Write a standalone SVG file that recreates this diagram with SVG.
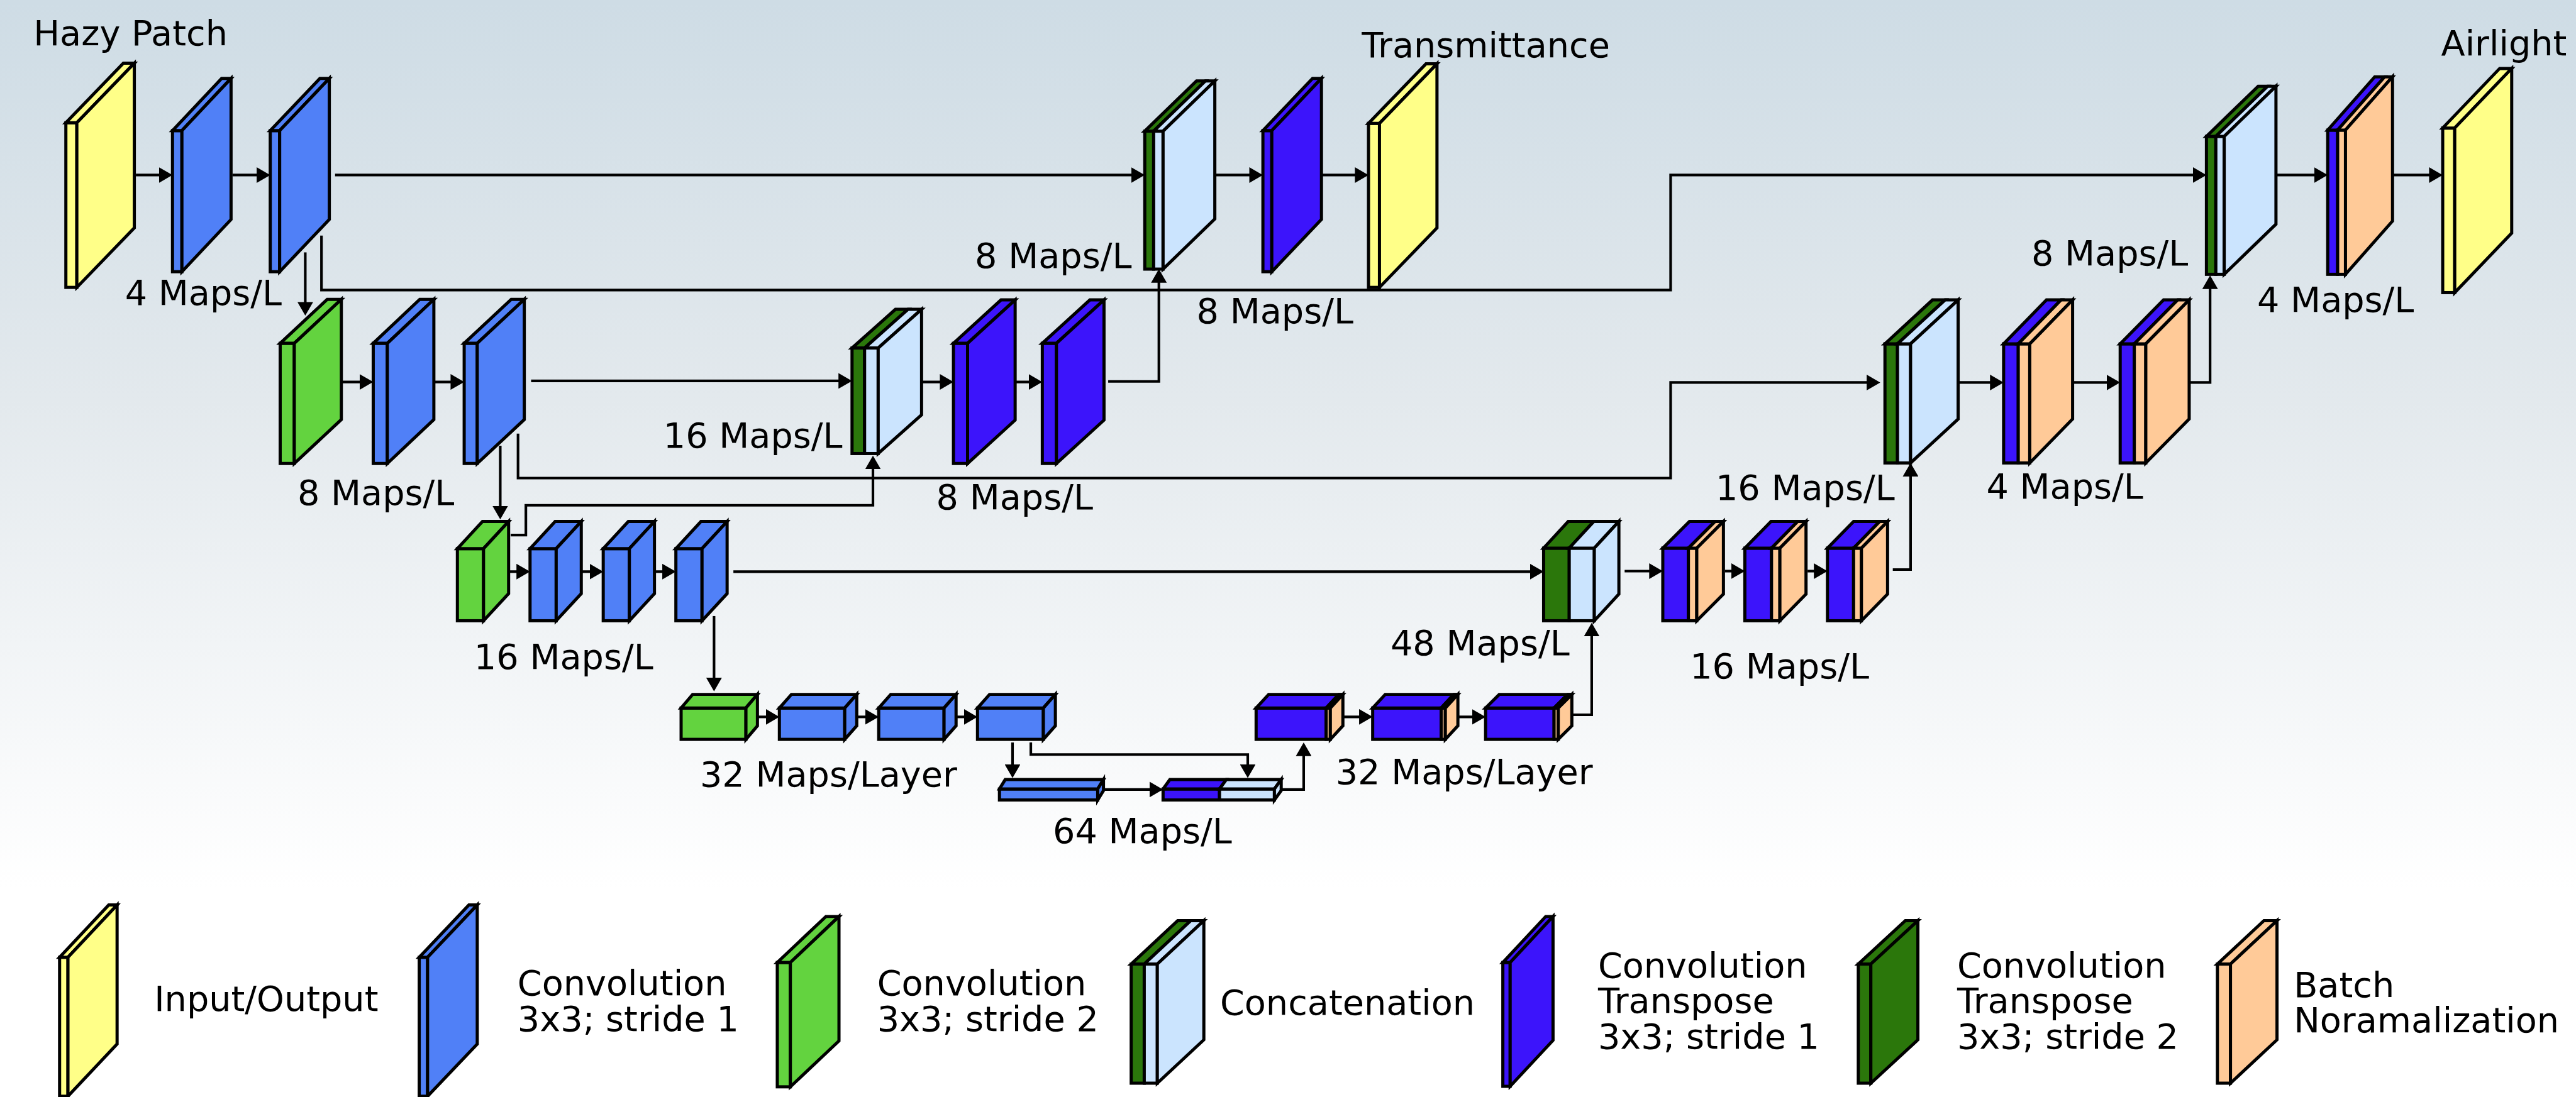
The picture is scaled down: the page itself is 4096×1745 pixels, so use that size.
<svg xmlns="http://www.w3.org/2000/svg" width="4096" height="1745" viewBox="0 0 4096 1745">
  <defs>
    <linearGradient id="bg" x1="0" y1="0" x2="0" y2="1700" gradientUnits="userSpaceOnUse">
      <stop offset="0" stop-color="#cedce5"/>
      <stop offset="0.45" stop-color="#e3e9ed"/>
      <stop offset="1" stop-color="#ffffff"/>
    </linearGradient>
    <marker id="arr" markerUnits="userSpaceOnUse" markerWidth="26" markerHeight="30" refX="16" refY="15" orient="auto">
      <path d="M0,0 L26,15 L0,30 Z" fill="#000"/>
    </marker>
    <style>
      .s polygon, .s rect { stroke:#000; stroke-width:6; stroke-linejoin:miter; }
      .y { fill:#ffff88; }
      .b { fill:#5080f7; }
      .g { fill:#63d33f; }
      .dg { fill:#2b770b; }
      .lb { fill:#cbe4fe; }
      .v { fill:#3c14fb; }
      .p { fill:#ffca98; }
      .c { fill:none; stroke:#000; stroke-width:5; marker-end:url(#arr); }
      .t { font-family:"DejaVu Sans", "Liberation Sans", sans-serif; font-size:67px; fill:#000; }
    </style>
  </defs>

  <g transform="scale(0.831169)">
    <rect x="0" y="0" width="4928" height="2100" fill="url(#bg)"/>

    <!-- connectors -->
    <g id="connectors">
      <!-- level 1 -->
      <path class="c" d="M260,335 H320"/>
      <path class="c" d="M445,335 H507"/>
      <path class="c" d="M641,335 H2180"/>
      <path class="c" d="M2326,335 H2406"/>
      <path class="c" d="M2529,335 H2608"/>
      <path class="c" d="M615,451 V555 H3196 V335 H4211"/>
      <path class="c" d="M584,483 V594"/>
      <path class="c" d="M4355,335 H4443"/>
      <path class="c" d="M4578,335 H4663"/>
      <!-- level 2 -->
      <path class="c" d="M653,731 H704"/>
      <path class="c" d="M830,731 H878"/>
      <path class="c" d="M1016,729 H1620"/>
      <path class="c" d="M1765,731 H1814"/>
      <path class="c" d="M1943,731 H1984"/>
      <path class="c" d="M2120,730 H2217 V525"/>
      <path class="c" d="M991,830 V915 H3196 V732 H3587"/>
      <path class="c" d="M957,853 V984"/>
      <path class="c" d="M977,1024 H1006 V967 H1670 V882"/>
      <path class="c" d="M3747,732 H3823"/>
      <path class="c" d="M3966,732 H4046"/>
      <path class="c" d="M4189,732 H4228 V537"/>
      <!-- level 3 -->
      <path class="c" d="M973,1094 H1004"/>
      <path class="c" d="M1112,1094 H1144"/>
      <path class="c" d="M1252,1094 H1283"/>
      <path class="c" d="M1403,1094 H2943"/>
      <path class="c" d="M1366,1179 V1313"/>
      <path class="c" d="M3108,1093 H3171"/>
      <path class="c" d="M3300,1093 H3328"/>
      <path class="c" d="M3458,1093 H3486"/>
      <path class="c" d="M3621,1090 H3655 V896"/>
      <!-- level 4 / 5 -->
      <path class="c" d="M1449,1372 H1481"/>
      <path class="c" d="M1639,1372 H1671"/>
      <path class="c" d="M1829,1372 H1860"/>
      <path class="c" d="M1937,1421 V1479"/>
      <path class="c" d="M1972,1421 V1444 H2387 V1479"/>
      <path class="c" d="M2111,1511 H2215"/>
      <path class="c" d="M2452,1511 H2494 V1431"/>
      <path class="c" d="M2569,1372 H2616"/>
      <path class="c" d="M2790,1372 H2832"/>
      <path class="c" d="M3008,1368 H3045 V1202"/>
    </g>

    <!-- level 1 nodes -->
    <g id="hazy-patch" class="s">
      <rect class="y" x="126" y="235" width="21" height="315"/>
      <polygon class="y" points="126,235 147,235 257,121 236,121"/>
      <polygon class="y" points="147,235 257,121 257,436 147,550"/>
    </g>
    <g id="conv1a" class="s">
      <rect class="b" x="330" y="250" width="18" height="270"/>
      <polygon class="b" points="330,250 348,250 442,150 424,150"/>
      <polygon class="b" points="348,250 442,150 442,420 348,520"/>
    </g>
    <g id="conv1b" class="s">
      <rect class="b" x="517" y="250" width="18" height="270"/>
      <polygon class="b" points="517,250 535,250 630,150 612,150"/>
      <polygon class="b" points="535,250 630,150 630,420 535,520"/>
    </g>
    <g id="concat-t1" class="s">
      <rect class="dg" x="2190" y="251" width="17" height="264"/>
      <polygon class="dg" points="2190,251 2207,251 2306,155 2289,155"/>
      <rect class="lb" x="2207" y="251" width="18" height="264"/>
      <polygon class="lb" points="2207,251 2225,251 2324,155 2306,155"/>
      <polygon class="lb" points="2225,251 2324,155 2324,419 2225,515"/>
    </g>
    <g id="tconv-t1" class="s">
      <rect class="v" x="2416" y="250" width="17" height="270"/>
      <polygon class="v" points="2416,250 2433,250 2528,150 2511,150"/>
      <polygon class="v" points="2433,250 2528,150 2528,420 2433,520"/>
    </g>
    <g id="transmittance" class="s">
      <rect class="y" x="2618" y="236" width="21" height="314"/>
      <polygon class="y" points="2618,236 2639,236 2749,122 2728,122"/>
      <polygon class="y" points="2639,236 2749,122 2749,436 2639,550"/>
    </g>
    <g id="concat-a1" class="s">
      <rect class="dg" x="4221" y="261" width="18" height="264"/>
      <polygon class="dg" points="4221,261 4239,261 4338,165 4320,165"/>
      <rect class="lb" x="4239" y="261" width="16" height="264"/>
      <polygon class="lb" points="4239,261 4255,261 4354,165 4338,165"/>
      <polygon class="lb" points="4255,261 4354,165 4354,429 4255,525"/>
    </g>
    <g id="tconv-a1" class="s">
      <rect class="v" x="4453" y="249" width="19" height="276"/>
      <polygon class="v" points="4453,249 4472,249 4562,147 4543,147"/>
      <rect class="p" x="4472" y="249" width="15" height="276"/>
      <polygon class="p" points="4472,249 4487,249 4577,147 4562,147"/>
      <polygon class="p" points="4487,249 4577,147 4577,423 4487,525"/>
    </g>
    <g id="airlight" class="s">
      <rect class="y" x="4673" y="245" width="23" height="315"/>
      <polygon class="y" points="4673,245 4696,245 4805,131 4782,131"/>
      <polygon class="y" points="4696,245 4805,131 4805,446 4696,560"/>
    </g>

    <!-- level 2 nodes -->
    <g id="down2" class="s">
      <rect class="g" x="536" y="657" width="27" height="230"/>
      <polygon class="g" points="536,657 563,657 653,573 626,573"/>
      <polygon class="g" points="563,657 653,573 653,803 563,887"/>
    </g>
    <g id="conv2a" class="s">
      <rect class="b" x="714" y="657" width="27" height="230"/>
      <polygon class="b" points="714,657 741,657 830,573 803,573"/>
      <polygon class="b" points="741,657 830,573 830,803 741,887"/>
    </g>
    <g id="conv2b" class="s">
      <rect class="b" x="888" y="657" width="25" height="230"/>
      <polygon class="b" points="888,657 913,657 1003,573 978,573"/>
      <polygon class="b" points="913,657 1003,573 1003,803 913,887"/>
    </g>
    <g id="concat-t2" class="s">
      <rect class="dg" x="1630" y="666" width="24" height="202"/>
      <polygon class="dg" points="1630,666 1654,666 1737,592 1713,592"/>
      <rect class="lb" x="1654" y="666" width="26" height="202"/>
      <polygon class="lb" points="1654,666 1680,666 1763,592 1737,592"/>
      <polygon class="lb" points="1680,666 1763,592 1763,794 1680,868"/>
    </g>
    <g id="tconv-t2a" class="s">
      <rect class="v" x="1824" y="657" width="27" height="230"/>
      <polygon class="v" points="1824,657 1851,657 1942,574 1915,574"/>
      <polygon class="v" points="1851,657 1942,574 1942,804 1851,887"/>
    </g>
    <g id="tconv-t2b" class="s">
      <rect class="v" x="1994" y="657" width="27" height="230"/>
      <polygon class="v" points="1994,657 2021,657 2112,574 2085,574"/>
      <polygon class="v" points="2021,657 2112,574 2112,804 2021,887"/>
    </g>
    <g id="concat-a2" class="s">
      <rect class="dg" x="3606" y="658" width="24" height="228"/>
      <polygon class="dg" points="3606,658 3630,658 3721,574 3697,574"/>
      <rect class="lb" x="3630" y="658" width="25" height="228"/>
      <polygon class="lb" points="3630,658 3655,658 3746,574 3721,574"/>
      <polygon class="lb" points="3655,658 3746,574 3746,802 3655,886"/>
    </g>
    <g id="tconv-a2a" class="s">
      <rect class="v" x="3833" y="658" width="28" height="228"/>
      <polygon class="v" points="3833,658 3861,658 3943,574 3915,574"/>
      <rect class="p" x="3861" y="658" width="22" height="228"/>
      <polygon class="p" points="3861,658 3883,658 3965,574 3943,574"/>
      <polygon class="p" points="3883,658 3965,574 3965,802 3883,886"/>
    </g>
    <g id="tconv-a2b" class="s">
      <rect class="v" x="4056" y="658" width="27" height="228"/>
      <polygon class="v" points="4056,658 4083,658 4166,574 4139,574"/>
      <rect class="p" x="4083" y="658" width="22" height="228"/>
      <polygon class="p" points="4083,658 4105,658 4188,574 4166,574"/>
      <polygon class="p" points="4105,658 4188,574 4188,802 4105,886"/>
    </g>

    <!-- level 3 nodes -->
    <g id="down3" class="s">
      <rect class="g" x="875" y="1050" width="50" height="138"/>
      <polygon class="g" points="875,1050 925,1050 973,998 923,998"/>
      <polygon class="g" points="925,1050 973,998 973,1136 925,1188"/>
    </g>
    <g id="conv3a" class="s">
      <rect class="b" x="1014" y="1050" width="50" height="138"/>
      <polygon class="b" points="1014,1050 1064,1050 1112,998 1062,998"/>
      <polygon class="b" points="1064,1050 1112,998 1112,1136 1064,1188"/>
    </g>
    <g id="conv3b" class="s">
      <rect class="b" x="1154" y="1050" width="50" height="138"/>
      <polygon class="b" points="1154,1050 1204,1050 1252,998 1202,998"/>
      <polygon class="b" points="1204,1050 1252,998 1252,1136 1204,1188"/>
    </g>
    <g id="conv3c" class="s">
      <rect class="b" x="1293" y="1050" width="50" height="138"/>
      <polygon class="b" points="1293,1050 1343,1050 1391,998 1341,998"/>
      <polygon class="b" points="1343,1050 1391,998 1391,1136 1343,1188"/>
    </g>
    <g id="concat3" class="s">
      <rect class="dg" x="2953" y="1049" width="49" height="139"/>
      <polygon class="dg" points="2953,1049 3002,1049 3049,998 3000,998"/>
      <rect class="lb" x="3002" y="1049" width="48" height="139"/>
      <polygon class="lb" points="3002,1049 3050,1049 3097,998 3049,998"/>
      <polygon class="lb" points="3050,1049 3097,998 3097,1137 3050,1188"/>
    </g>
    <g id="tconv3a" class="s">
      <rect class="v" x="3181" y="1049" width="49" height="139"/>
      <polygon class="v" points="3181,1049 3230,1049 3281,998 3232,998"/>
      <rect class="p" x="3230" y="1049" width="16" height="139"/>
      <polygon class="p" points="3230,1049 3246,1049 3297,998 3281,998"/>
      <polygon class="p" points="3246,1049 3297,998 3297,1137 3246,1188"/>
    </g>
    <g id="tconv3b" class="s">
      <rect class="v" x="3338" y="1049" width="51" height="139"/>
      <polygon class="v" points="3338,1049 3389,1049 3439,998 3388,998"/>
      <rect class="p" x="3389" y="1049" width="16" height="139"/>
      <polygon class="p" points="3389,1049 3405,1049 3455,998 3439,998"/>
      <polygon class="p" points="3405,1049 3455,998 3455,1137 3405,1188"/>
    </g>
    <g id="tconv3c" class="s">
      <rect class="v" x="3496" y="1049" width="50" height="139"/>
      <polygon class="v" points="3496,1049 3546,1049 3596,998 3546,998"/>
      <rect class="p" x="3546" y="1049" width="15" height="139"/>
      <polygon class="p" points="3546,1049 3561,1049 3611,998 3596,998"/>
      <polygon class="p" points="3561,1049 3611,998 3611,1137 3561,1188"/>
    </g>

    <!-- level 4 nodes -->
    <g id="down4" class="s">
      <rect class="g" x="1303" y="1355" width="124" height="60"/>
      <polygon class="g" points="1303,1355 1427,1355 1449,1329 1325,1329"/>
      <polygon class="g" points="1427,1355 1449,1329 1449,1389 1427,1415"/>
    </g>
    <g id="conv4a" class="s">
      <rect class="b" x="1491" y="1355" width="125" height="60"/>
      <polygon class="b" points="1491,1355 1616,1355 1639,1329 1514,1329"/>
      <polygon class="b" points="1616,1355 1639,1329 1639,1389 1616,1415"/>
    </g>
    <g id="conv4b" class="s">
      <rect class="b" x="1681" y="1355" width="125" height="60"/>
      <polygon class="b" points="1681,1355 1806,1355 1829,1329 1704,1329"/>
      <polygon class="b" points="1806,1355 1829,1329 1829,1389 1806,1415"/>
    </g>
    <g id="conv4c" class="s">
      <rect class="b" x="1870" y="1355" width="126" height="60"/>
      <polygon class="b" points="1870,1355 1996,1355 2019,1329 1893,1329"/>
      <polygon class="b" points="1996,1355 2019,1329 2019,1389 1996,1415"/>
    </g>
    <g id="tconv4a" class="s">
      <rect class="v" x="2403" y="1355" width="134" height="60"/>
      <polygon class="v" points="2403,1355 2537,1355 2561,1329 2427,1329"/>
      <rect class="p" x="2537" y="1355" width="8" height="60"/>
      <polygon class="p" points="2537,1355 2545,1355 2569,1329 2561,1329"/>
      <polygon class="p" points="2545,1355 2569,1329 2569,1389 2545,1415"/>
    </g>
    <g id="tconv4b" class="s">
      <rect class="v" x="2626" y="1355" width="131" height="60"/>
      <polygon class="v" points="2626,1355 2757,1355 2781,1329 2650,1329"/>
      <rect class="p" x="2757" y="1355" width="8" height="60"/>
      <polygon class="p" points="2757,1355 2765,1355 2789,1329 2781,1329"/>
      <polygon class="p" points="2765,1355 2789,1329 2789,1389 2765,1415"/>
    </g>
    <g id="tconv4c" class="s">
      <rect class="v" x="2842" y="1355" width="131" height="60"/>
      <polygon class="v" points="2842,1355 2973,1355 2999,1329 2868,1329"/>
      <rect class="p" x="2973" y="1355" width="8" height="60"/>
      <polygon class="p" points="2973,1355 2981,1355 3007,1329 2999,1329"/>
      <polygon class="p" points="2981,1355 3007,1329 3007,1389 2981,1415"/>
    </g>

    <!-- bottleneck -->
    <g id="conv5" class="s">
      <rect class="b" x="1912" y="1510" width="188" height="21"/>
      <polygon class="b" points="1912,1510 2100,1510 2111,1492 1923,1492"/>
      <polygon class="b" points="2100,1510 2111,1492 2111,1513 2100,1531"/>
    </g>
    <g id="concat5" class="s">
      <rect class="v" x="2225" y="1510" width="108" height="21"/>
      <polygon class="v" points="2225,1510 2333,1510 2346,1492 2238,1492"/>
      <rect class="lb" x="2333" y="1510" width="105" height="21"/>
      <polygon class="lb" points="2333,1510 2438,1510 2451,1492 2346,1492"/>
      <polygon class="lb" points="2438,1510 2451,1492 2451,1513 2438,1531"/>
    </g>

    <!-- labels -->
    <g id="labels" class="t">
      <text x="64" y="87">Hazy Patch</text>
      <text x="2605" y="109">Transmittance</text>
      <text x="4670" y="106">Airlight</text>
      <text x="239" y="583">4 Maps/L</text>
      <text x="2165" y="512" text-anchor="end">8 Maps/L</text>
      <text x="2289" y="618">8 Maps/L</text>
      <text x="3886" y="508">8 Maps/L</text>
      <text x="4318" y="597">4 Maps/L</text>
      <text x="1269" y="857">16 Maps/L</text>
      <text x="569" y="966">8 Maps/L</text>
      <text x="1791" y="975">8 Maps/L</text>
      <text x="3282" y="956">16 Maps/L</text>
      <text x="3800" y="954">4 Maps/L</text>
      <text x="907" y="1280">16 Maps/L</text>
      <text x="2660" y="1254">48 Maps/L</text>
      <text x="3233" y="1298">16 Maps/L</text>
      <text x="1339" y="1505">32 Maps/Layer</text>
      <text x="2555" y="1500">32 Maps/Layer</text>
      <text x="2014" y="1613">64 Maps/L</text>
    </g>

    <!-- legend -->
    <g id="legend-io" class="s">
      <rect class="y" x="114" y="1832" width="16" height="266"/>
      <polygon class="y" points="114,1832 130,1832 224,1732 208,1732"/>
      <polygon class="y" points="130,1832 224,1732 224,1998 130,2098"/>
      <text class="t" x="295" y="1935" stroke="none">Input/Output</text>
    </g>
    <g id="legend-conv1" class="s">
      <rect class="b" x="802" y="1832" width="16" height="266"/>
      <polygon class="b" points="802,1832 818,1832 913,1732 897,1732"/>
      <polygon class="b" points="818,1832 913,1732 913,1998 818,2098"/>
      <text class="t" x="990" y="1904">Convolution</text>
      <text class="t" x="990" y="1973">3x3; stride 1</text>
    </g>
    <g id="legend-conv2" class="s">
      <rect class="g" x="1487" y="1842" width="25" height="238"/>
      <polygon class="g" points="1487,1842 1512,1842 1605,1754 1580,1754"/>
      <polygon class="g" points="1512,1842 1605,1754 1605,1992 1512,2080"/>
      <text class="t" x="1678" y="1905">Convolution</text>
      <text class="t" x="1678" y="1973">3x3; stride 2</text>
    </g>
    <g id="legend-concat" class="s">
      <rect class="dg" x="2164" y="1845" width="25" height="228"/>
      <polygon class="dg" points="2164,1845 2189,1845 2278,1762 2253,1762"/>
      <rect class="lb" x="2189" y="1845" width="25" height="228"/>
      <polygon class="lb" points="2189,1845 2214,1845 2303,1762 2278,1762"/>
      <polygon class="lb" points="2214,1845 2303,1762 2303,1990 2214,2073"/>
      <text class="t" x="2334" y="1942">Concatenation</text>
    </g>
    <g id="legend-tconv1" class="s">
      <rect class="v" x="2875" y="1842" width="14" height="237"/>
      <polygon class="v" points="2875,1842 2889,1842 2971,1754 2957,1754"/>
      <polygon class="v" points="2889,1842 2971,1754 2971,1991 2889,2079"/>
      <text class="t" x="3057" y="1871">Convolution</text>
      <text class="t" x="3057" y="1938">Transpose</text>
      <text class="t" x="3057" y="2007">3x3; stride 1</text>
    </g>
    <g id="legend-tconv2" class="s">
      <rect class="dg" x="3555" y="1845" width="24" height="228"/>
      <polygon class="dg" points="3555,1845 3579,1845 3669,1762 3645,1762"/>
      <polygon class="dg" points="3579,1845 3669,1762 3669,1990 3579,2073"/>
      <text class="t" x="3744" y="1871">Convolution</text>
      <text class="t" x="3744" y="1938">Transpose</text>
      <text class="t" x="3744" y="2007">3x3; stride 2</text>
    </g>
    <g id="legend-bn" class="s">
      <rect class="p" x="4242" y="1845" width="25" height="228"/>
      <polygon class="p" points="4242,1845 4267,1845 4356,1762 4331,1762"/>
      <polygon class="p" points="4267,1845 4356,1762 4356,1990 4267,2073"/>
      <text class="t" x="4388" y="1908">Batch</text>
      <text class="t" x="4388" y="1976">Noramalization</text>
    </g>
  </g>
</svg>
